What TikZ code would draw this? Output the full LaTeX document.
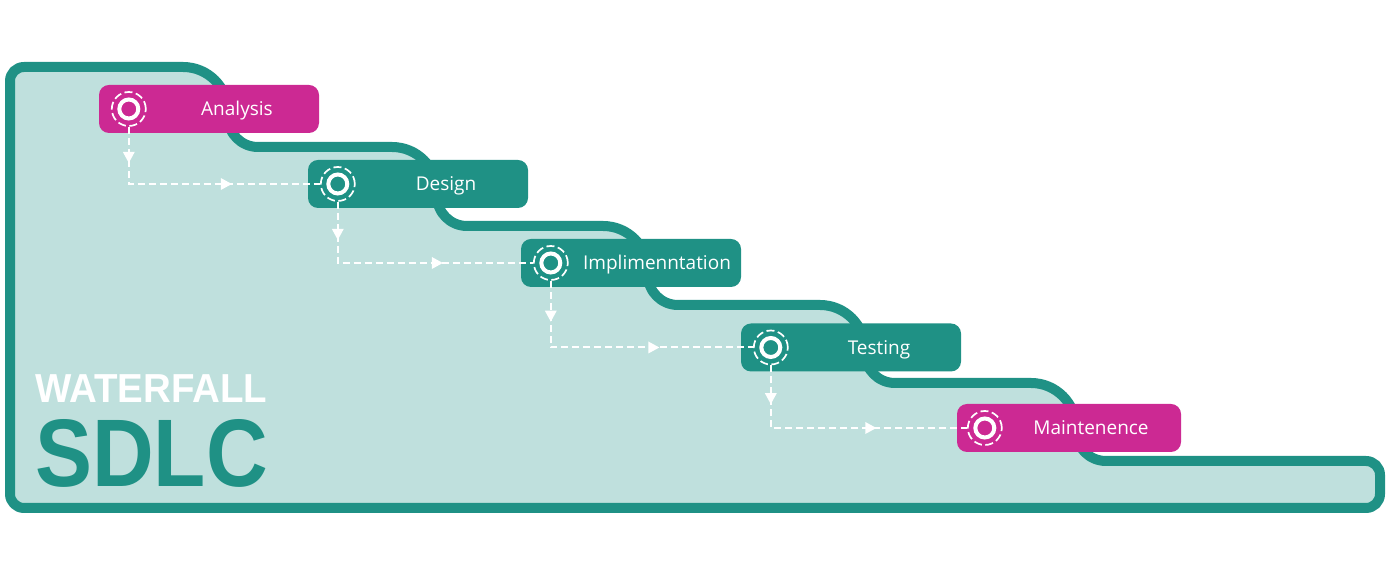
\documentclass[tikz,border=0pt]{standalone}
\usepackage{fontspec}
\setmainfont{Open Sans}
\newfontfamily\headfont{Liberation Sans}
\usetikzlibrary{shapes.geometric}
\definecolor{sdlcteal}{HTML}{1F9185}
\definecolor{sdlcmint}{HTML}{BFE0DD}
\definecolor{sdlcpink}{HTML}{CC2993}

\tikzset{
  stage/.style={rectangle, rounded corners=10pt, minimum width=220pt, minimum height=48pt, inner sep=0pt},
  stagetext/.style={text=white, anchor=base, inner sep=0pt, font=\fontsize{19}{20}\selectfont},
  ring/.style={circle, draw=white, line width=1.7pt, dash pattern=on 8pt off 3.5pt, minimum size=34pt, inner sep=0pt,
    path picture={\draw[white, solid, line width=4pt] (path picture bounding box.center) circle[radius=9.5pt];}},
  flow/.style={draw=white, line width=2pt, dash pattern=on 7pt off 4pt},
  tip/.style={isosceles triangle, isosceles triangle stretches, fill=white, inner sep=0pt, minimum height=11pt, minimum width=12pt, sloped},
  headline/.style={anchor=base west, inner sep=0pt},
}

\begin{document}
\begin{tikzpicture}[x=1pt,y=1pt]
\useasboundingbox (0,0) rectangle (1389,569);

% Stair outline
\draw[draw=sdlcteal, fill=sdlcmint, line width=10pt, line join=round]
  (1200,108) [rounded corners=14pt] -- (1380,108) -- (1380,61) -- (10,61) -- (10,502) -- (100,502)
  [sharp corners] -- (183,502) to[out=0,in=90] (228,457) -- (228,452) to[out=-90,in=180] (258,422)
  -- (392,422) to[out=0,in=90] (437,377) -- (437,373) to[out=-90,in=180] (467,343)
  -- (603,343) to[out=0,in=90] (648,298) -- (648,294) to[out=-90,in=180] (678,264)
  -- (820,264) to[out=0,in=90] (865,219) -- (865,216) to[out=-90,in=180] (895,186)
  -- (1031,186) to[out=0,in=90] (1076,141) -- (1076,138) to[out=-90,in=180] (1106,108) -- cycle;

% Stages
\node[stage, fill=sdlcpink] (analysis) at (209,460) {};
\node[stagetext] at ([xshift=28pt,yshift=-7pt]analysis.center) {Analysis};
\node[ring] (ranalysis) at ([xshift=30pt]analysis.west) {};

\node[stage, fill=sdlcteal] (design) at (418,385) {};
\node[stagetext] at ([xshift=28pt,yshift=-7pt]design.center) {Design};
\node[ring] (rdesign) at ([xshift=30pt]design.west) {};

\node[stage, fill=sdlcteal] (impl) at (631,306) {};
\node[stagetext] at ([xshift=26pt,yshift=-7pt]impl.center) {Implimenntation};
\node[ring] (rimpl) at ([xshift=30pt]impl.west) {};

\node[stage, fill=sdlcteal] (testing) at (851,221.5) {};
\node[stagetext] at ([xshift=28pt,yshift=-7pt]testing.center) {Testing};
\node[ring] (rtesting) at ([xshift=30pt]testing.west) {};

\node[stage, fill=sdlcpink, minimum width=224pt] (maint) at (1069,141) {};
\node[stagetext] at ([xshift=22pt,yshift=-7pt]maint.center) {Maintenence};
\node[ring] (rmaint) at ([xshift=28pt]maint.west) {};

% Flow
\draw[flow] (ranalysis) |- node[tip, pos=0.25] {} node[tip, pos=0.75] {} (rdesign);
\draw[flow] (rdesign) |- node[tip, pos=0.25] {} node[tip, pos=0.75] {} (rimpl);
\draw[flow] (rimpl) |- node[tip, pos=0.25] {} node[tip, pos=0.75] {} (rtesting);
\draw[flow] (rtesting) |- node[tip, pos=0.25] {} node[tip, pos=0.75] {} (rmaint);

% Title
\node[headline, text=white, font=\headfont\bfseries\fontsize{40.5}{42}\selectfont, xscale=0.95] (waterfall) at (35,166) {WATERFALL};
\node[headline, text=sdlcteal, font=\headfont\bfseries\fontsize{96}{98}\selectfont, xscale=0.89] (sdlc) at (35,82) {SDLC};
\end{tikzpicture}
\end{document}
